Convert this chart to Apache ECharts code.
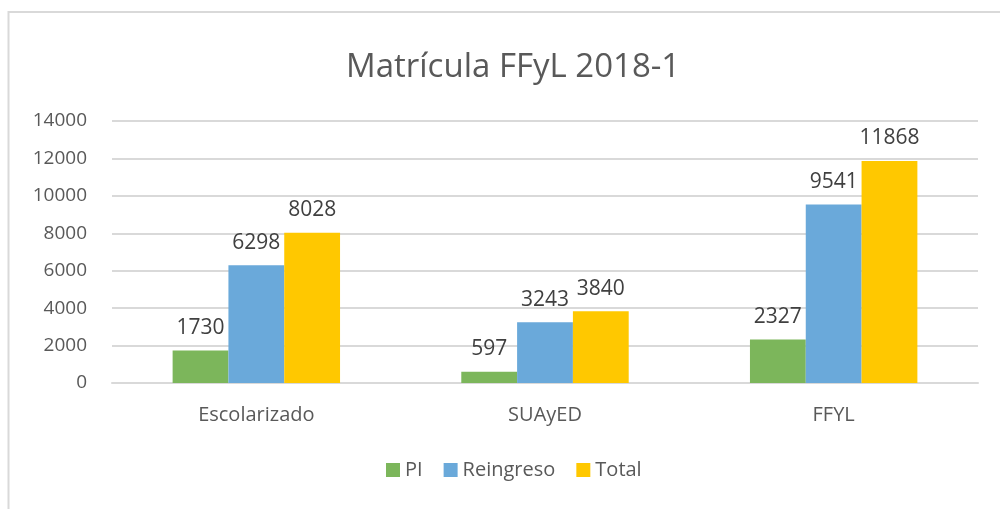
<!DOCTYPE html>
<html><head><meta charset="utf-8">
<script src="https://cdn.jsdelivr.net/npm/echarts@6/dist/echarts.min.js"></script>
<style>html,body{margin:0;padding:0;background:#fff}#c{width:1000px;height:509px}</style>
</head><body><div id="c"></div>
<script>
const categories = ['Escolarizado', 'SUAyED', 'FFYL'];
const seriesNames = ['PI', 'Reingreso', 'Total'];
const piValues = [1730, 597, 2327];
const reingresoValues = [6298, 3243, 9541];
const totalValues = [8028, 3840, 11868];
const colors = ['#7cb65b', '#6aa9da', '#ffc800'];
const FONT = '"Open Sans", "Noto Sans", sans-serif';

const chart = echarts.init(document.getElementById('c'), null, {renderer: 'canvas'});
const dataSets = [piValues, reingresoValues, totalValues];
chart.setOption({
  animation: false,
  backgroundColor: '#fff',
  title: {
    text: 'Matrícula FFyL 2018-1', left: 341, top: 46,
    textStyle: {fontFamily: FONT, fontSize: 33, fontWeight: 'normal', color: '#595959'}
  },
  graphic: [{
    type: 'rect', shape: {x: 8.5, y: 12, width: 1200, height: 700},
    style: {fill: 'none', stroke: '#d9d9d9', lineWidth: 2}, silent: true, z: -1
  }],
  legend: {
    data: seriesNames, bottom: 24, left: 381, itemWidth: 14, itemHeight: 14, itemGap: 21,
    icon: 'rect',
    textStyle: {fontFamily: FONT, fontSize: 20, color: '#595959'}
  },
  grid: {left: 112, right: 22, top: 121, bottom: 126},
  xAxis: {
    type: 'category', data: categories,
    axisLine: {lineStyle: {color: '#d9d9d9', width: 2}}, axisTick: {show: false},
    axisLabel: {fontFamily: FONT, fontSize: 20, color: '#595959', margin: 22}
  },
  yAxis: {
    type: 'value', min: 0, max: 14000, interval: 2000,
    axisLine: {show: false}, axisTick: {show: false},
    splitLine: {lineStyle: {color: '#d9d9d9', width: 2}},
    axisLabel: {fontFamily: FONT, fontSize: 19, color: '#595959', margin: 25, formatter: v => String(v)}
  },
  series: seriesNames.map((n, i) => ({
    name: n, type: 'bar', data: dataSets[i], barGap: '0%', barCategoryGap: '42%',
    itemStyle: {color: colors[i]},
    label: {show: true, position: 'top', distance: 12, fontFamily: FONT, fontSize: 21, color: '#404040'}
  }))
});
</script></body></html>
